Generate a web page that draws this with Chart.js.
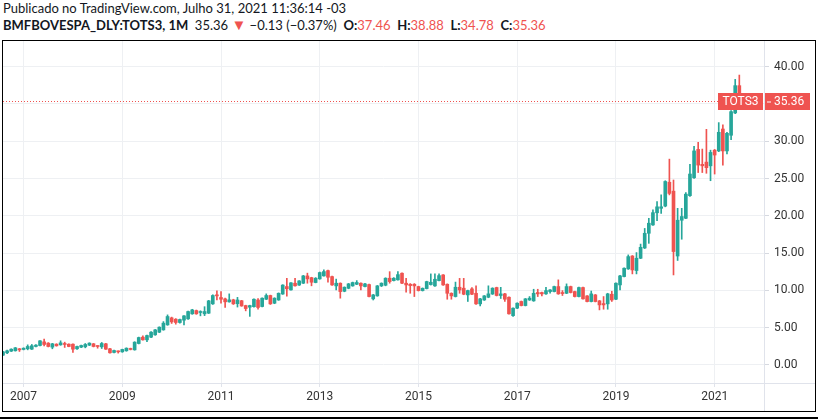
<!DOCTYPE html>
<html>
<head>
<meta charset="utf-8">
<script src="https://cdn.jsdelivr.net/npm/chart.js@4.4.1/dist/chart.umd.min.js"></script>
<style>
  body { margin: 0; width: 818px; height: 419px; background: #fff; position: relative; overflow: hidden; font-family: Lato, sans-serif; color: #131722; }
  .hdr { position: absolute; left: 3px; white-space: nowrap; font-size: 13px; }
  #h1 { top: 0px; }
  #h2 { top: 17px; }
  #h2 b { font-weight: 700; }
  .r { color: #ef5350; }
  .tri { font-size: 15px; line-height: 13px; }
  #frame { position: absolute; left: 2px; top: 40px; width: 814px; height: 372px; box-sizing: border-box; border: 1px solid #000; }
  #wrap { position: absolute; left: 3px; top: 41px; width: 812px; height: 370px; }
  #base { position: absolute; left: 0; top: 417px; width: 818px; height: 2px; background: #000; }
</style>
</head>
<body>
<div class="hdr" id="h1">Publicado no TradingView.com, Julho 31, 2021 11:36:14 -03</div>
<div class="hdr" id="h2"><b>BMFBOVESPA_DLY:TOTS3, 1M</b>&nbsp; 35.36 <span class="r tri">▼</span> −0.13 (−0.37%)&nbsp; <b>O:</b><span class="r" id="vo"></span>&nbsp; <b>H:</b><span class="r" id="vh"></span>&nbsp; <b>L:</b><span class="r" id="vl"></span>&nbsp; <b>C:</b><span class="r" id="vc"></span></div>
<div id="frame"></div>
<div id="wrap"><canvas id="c" width="812" height="370"></canvas></div>
<div id="base"></div>
<script>
// monthly candles TOTS3, Aug 2006 .. Jul 2021
const startYear = 2006, startMonth = 8;
const emptyMonths = 6; // blank space right of the last candle
const symbol = 'TOTS3';

const open = [
  1.30, 1.61, 1.83, 1.88, 2.15, 2.06, 2.15, 2.10, 2.46, 2.59, 3.08, 2.91, 2.37, 2.77, 2.68, 2.82, 2.77, 2.77, 2.15, 2.37,
  2.41, 2.64, 2.82, 2.55, 2.41, 2.82, 2.15, 1.66, 1.83, 1.74, 1.88, 2.19, 2.01, 2.86, 3.71, 3.35, 3.71, 4.02, 4.38, 4.69,
  5.36, 6.30, 6.12, 5.68, 5.99, 6.17, 6.84, 7.28, 7.02, 6.84, 6.93, 8.18, 9.39, 9.03, 8.85, 8.45, 8.72, 8.20, 8.60, 7.95,
  7.73, 7.80, 8.70, 7.82, 8.80, 9.30, 8.27, 8.70, 9.50, 10.50, 10.05, 10.95, 10.70, 10.95, 11.93, 11.70, 11.04, 11.53, 11.93, 12.64,
  11.84, 10.59, 10.95, 9.87, 10.27, 10.59, 10.81, 10.95, 10.50, 10.77, 8.85, 9.25, 10.59, 10.68, 11.62, 11.30, 11.40, 12.29, 10.95, 10.81,
  10.81, 10.50, 9.96, 10.23, 10.77, 10.59, 11.30, 12.06, 10.81, 9.60, 9.16, 10.41, 10.28, 9.38, 10.19, 9.60, 8.18, 8.70, 9.07, 9.50,
  10.37, 9.30, 9.52, 9.07, 6.60, 7.60, 8.50, 7.95, 8.70, 8.58, 9.70, 9.70, 9.52, 9.83, 9.83, 10.50, 9.70, 9.60, 10.50, 9.83,
  9.16, 10.37, 9.25, 8.49, 9.38, 8.58, 8.22, 8.18, 9.47, 8.80, 10.72, 11.84, 12.87, 14.60, 12.65, 14.30, 15.68, 17.65, 18.77, 20.40,
  21.00, 21.30, 24.50, 23.30, 14.60, 19.40, 19.66, 22.70, 25.10, 28.90, 26.90, 27.20, 26.70, 28.80, 28.70, 31.64, 28.70, 30.80, 33.80, 37.46
];
const high = [
  1.80, 1.97, 2.15, 2.33, 2.20, 2.28, 2.68, 2.73, 2.70, 3.26, 3.44, 2.98, 2.88, 2.83, 3.22, 3.04, 2.82, 2.80, 2.50, 2.64,
  2.86, 2.96, 2.87, 2.58, 3.00, 2.88, 2.20, 1.98, 1.87, 2.10, 2.28, 2.24, 3.10, 3.72, 3.90, 4.00, 4.45, 4.75, 5.10, 5.80,
  6.70, 6.40, 6.20, 6.15, 6.62, 7.20, 7.45, 7.35, 7.25, 7.80, 8.65, 9.40, 9.92, 9.83, 8.95, 9.52, 8.80, 9.05, 8.65, 8.00,
  8.00, 8.86, 8.90, 9.00, 9.52, 9.35, 9.00, 9.65, 10.75, 11.60, 11.05, 11.60, 11.30, 12.00, 12.30, 11.75, 11.70, 12.45, 12.73, 12.70,
  11.90, 11.50, 11.00, 10.46, 10.92, 11.10, 11.30, 11.00, 10.92, 10.82, 9.45, 10.65, 11.00, 11.68, 12.50, 11.70, 12.50, 12.35, 11.60, 10.90,
  10.90, 10.55, 10.32, 11.22, 12.20, 12.20, 12.20, 12.12, 10.86, 9.66, 11.10, 11.60, 11.60, 10.02, 10.36, 10.60, 8.92, 9.30, 10.60, 10.34,
  10.42, 10.40, 9.58, 9.12, 7.66, 8.32, 8.56, 8.90, 9.16, 10.14, 10.14, 9.75, 10.40, 10.10, 10.56, 11.40, 9.96, 10.86, 10.56, 9.88,
  10.42, 10.42, 9.30, 9.90, 9.44, 8.64, 9.16, 9.60, 9.87, 11.00, 12.00, 13.02, 14.75, 14.66, 15.06, 16.20, 18.30, 19.66, 20.80, 21.90,
  22.80, 24.70, 27.60, 24.80, 21.00, 21.00, 23.10, 26.90, 29.30, 29.85, 28.95, 31.60, 28.80, 28.90, 32.50, 32.20, 31.20, 34.10, 38.30, 38.88
];
const low = [
  1.25, 1.48, 1.78, 1.84, 1.79, 2.00, 2.01, 2.05, 2.40, 2.55, 2.55, 2.40, 2.15, 2.50, 2.62, 2.33, 2.42, 1.66, 2.08, 2.30,
  2.28, 2.58, 2.40, 2.23, 2.19, 2.05, 1.55, 1.60, 1.57, 1.68, 1.82, 2.00, 1.96, 2.80, 3.30, 3.10, 3.65, 3.96, 4.32, 4.64,
  5.30, 5.55, 5.45, 5.60, 5.36, 6.10, 6.78, 6.78, 6.57, 6.60, 6.88, 8.10, 8.70, 8.27, 7.69, 8.40, 8.10, 7.75, 7.85, 7.24,
  6.50, 7.75, 7.45, 7.78, 8.75, 8.10, 8.20, 8.65, 9.45, 9.20, 10.00, 10.55, 10.65, 10.90, 10.95, 10.60, 11.00, 11.48, 11.88, 11.08,
  10.65, 10.05, 8.94, 9.80, 10.20, 10.54, 10.75, 10.05, 10.45, 9.10, 8.70, 9.20, 10.50, 10.60, 10.95, 11.25, 11.35, 10.90, 9.74, 9.60,
  9.16, 9.90, 9.90, 10.18, 10.70, 10.52, 11.25, 10.66, 8.80, 8.80, 9.10, 9.60, 9.40, 8.50, 9.42, 8.12, 7.90, 8.64, 9.00, 9.44,
  9.24, 8.90, 8.50, 6.78, 6.50, 7.54, 7.90, 7.90, 8.64, 8.52, 9.16, 9.25, 9.46, 9.60, 9.78, 9.46, 9.30, 9.55, 9.64, 9.10,
  9.10, 8.80, 8.44, 8.44, 8.44, 7.37, 7.46, 7.46, 8.50, 8.74, 10.05, 11.78, 12.80, 12.20, 12.20, 14.24, 15.60, 16.30, 18.70, 19.35,
  20.30, 21.20, 22.80, 12.06, 14.00, 16.85, 19.60, 22.60, 25.00, 25.80, 25.80, 25.70, 24.70, 25.60, 28.60, 26.80, 28.30, 30.20, 33.70, 34.78
];
const close = [
  1.74, 1.88, 2.10, 2.28, 2.01, 2.23, 2.46, 2.55, 2.64, 3.22, 2.73, 2.46, 2.82, 2.55, 2.95, 2.73, 2.46, 2.10, 2.46, 2.59,
  2.73, 2.91, 2.46, 2.46, 2.86, 2.10, 1.61, 1.92, 1.74, 2.06, 2.23, 2.06, 3.04, 3.66, 3.35, 3.93, 4.38, 4.69, 5.05, 5.59,
  6.48, 5.76, 5.68, 6.08, 6.57, 7.15, 7.37, 6.84, 7.15, 7.15, 8.58, 9.30, 9.25, 8.80, 8.45, 8.72, 8.18, 8.70, 7.90, 7.55,
  7.95, 8.80, 7.70, 8.94, 9.30, 8.18, 8.94, 9.60, 10.70, 10.20, 11.00, 10.60, 11.26, 11.93, 11.53, 11.08, 11.62, 12.38, 12.51, 11.75,
  10.72, 10.95, 9.83, 10.41, 10.86, 11.04, 11.04, 10.59, 10.86, 9.16, 9.38, 10.59, 10.95, 11.62, 11.17, 11.62, 12.10, 10.95, 10.72, 10.63,
  10.59, 9.96, 10.27, 11.17, 11.08, 11.48, 11.97, 10.72, 9.60, 9.25, 10.41, 10.05, 9.47, 9.96, 9.47, 8.18, 8.85, 9.25, 9.52, 10.28,
  9.30, 9.52, 8.80, 6.84, 7.60, 8.27, 7.95, 8.85, 8.94, 9.60, 9.52, 9.52, 9.96, 10.05, 10.50, 9.52, 9.56, 10.50, 9.70, 9.16,
  10.37, 8.85, 8.49, 9.52, 8.49, 8.04, 8.04, 9.52, 8.70, 10.95, 11.93, 12.96, 14.52, 12.73, 14.30, 15.77, 17.65, 19.00, 20.42, 21.20,
  21.20, 24.60, 23.00, 15.20, 19.40, 19.90, 22.90, 25.60, 28.70, 26.80, 26.70, 26.45, 28.50, 28.15, 31.20, 28.70, 31.06, 33.97, 37.46, 35.36
];
const yTicks = [0, 5, 10, 15, 20, 25, 30, 35, 40];

const UP = '#26a69a', DOWN = '#ef5350';
const FONT = 'Roboto, "Noto Sans", sans-serif';

// category labels, one per month
const labels = [];
for (let k = 0; k < open.length + emptyMonths; k++) {
  const m = (startMonth - 1 + k) % 12 + 1;
  const y = startYear + Math.floor((startMonth - 1 + k) / 12);
  labels.push(y + '-' + String(m).padStart(2, '0'));
}
const isYearTick = i => {
  const l = labels[i];
  return l && l.endsWith('-01') && (+l.slice(0, 4)) % 2 === 1;
};

const colors = open.map((o, i) => close[i] >= o ? UP : DOWN);
const wicks = open.map((o, i) => [low[i], high[i]]);
const bodies = open.map((o, i) => [o, close[i]]);

const last = open.length - 1;
document.getElementById('vo').textContent = open[last].toFixed(2);
document.getElementById('vh').textContent = high[last].toFixed(2);
document.getElementById('vl').textContent = low[last].toFixed(2);
document.getElementById('vc').textContent = close[last].toFixed(2);

const overlay = {
  id: 'overlay',
  afterDatasetsDraw(chart) {
    const {ctx, chartArea: a, scales: {y}} = chart;
    const W = chart.width, H = chart.height;
    ctx.save();
    // axis separators
    ctx.strokeStyle = '#e0e3eb';
    ctx.lineWidth = 1;
    ctx.beginPath();
    ctx.moveTo(0, Math.round(a.bottom) + 0.5); ctx.lineTo(W, Math.round(a.bottom) + 0.5);
    ctx.moveTo(Math.round(a.right) + 0.5, 0); ctx.lineTo(Math.round(a.right) + 0.5, H);
    ctx.stroke();

    // last price line + labels
    const py = Math.round(y.getPixelForValue(close[last])) + 0.5;
    const boxL = a.right - 46, boxH = 17;
    ctx.strokeStyle = DOWN;
    ctx.setLineDash([1, 2]);
    ctx.beginPath();
    ctx.moveTo(a.left, py); ctx.lineTo(boxL, py);
    ctx.stroke();
    ctx.setLineDash([]);
    ctx.fillStyle = DOWN;
    ctx.fillRect(boxL, py - boxH / 2, 45, boxH);
    ctx.fillRect(a.right + 1, py - boxH / 2, 45, boxH);
    ctx.fillStyle = '#fff';
    ctx.font = '12px ' + FONT;
    ctx.textBaseline = 'middle';
    ctx.textAlign = 'center';
    ctx.fillText(symbol, boxL + 22.5, py + 0.5);
    ctx.textAlign = 'left';
    ctx.fillText(close[last].toFixed(2), a.right + 10, py + 0.5);
    ctx.fillRect(a.right + 3, py, 4, 1);
    ctx.restore();
  }
};

new Chart(document.getElementById('c'), {
  type: 'bar',
  data: {
    labels: labels,
    datasets: [
      { data: wicks, backgroundColor: colors, barThickness: 1, grouped: false, order: 2 },
      { data: bodies, backgroundColor: colors, barThickness: 3, minBarLength: 1, grouped: false, order: 1 }
    ]
  },
  options: {
    responsive: false,
    animation: false,
    events: [],
    layout: { padding: 0 },
    plugins: { legend: { display: false }, tooltip: { enabled: false } },
    scales: {
      x: {
        type: 'category',
        offset: false,
        grid: {
          offset: false,
          tickLength: 4,
          color: ctx => isYearTick(ctx.index) ? '#eef0f3' : 'rgba(0,0,0,0)',
          tickColor: ctx => isYearTick(ctx.index) ? '#e0e3eb' : 'rgba(0,0,0,0)'
        },
        border: { display: false },
        ticks: {
          autoSkip: false,
          maxRotation: 0,
          padding: 3,
          color: '#333',
          font: { family: FONT, size: 12 },
          callback: (v, i) => isYearTick(i) ? labels[i].slice(0, 4) : ''
        },
        afterFit(s) { s.height = 28; s.paddingLeft = 0; s.paddingRight = 0; }
      },
      y: {
        position: 'right',
        min: -2.44,
        max: 43.45,
        grid: { color: '#eef0f3', tickLength: 5, tickColor: '#d6d9e0' },
        border: { display: false },
        afterBuildTicks(s) { s.ticks = yTicks.map(v => ({value: v})); },
        ticks: {
          padding: 5,
          color: '#333',
          font: { family: FONT, size: 12 },
          callback: v => v.toFixed(2)
        },
        afterFit(s) { s.width = 51; s.paddingTop = 0; s.paddingBottom = 0; }
      }
    }
  },
  plugins: [overlay]
});
</script>
</body>
</html>
